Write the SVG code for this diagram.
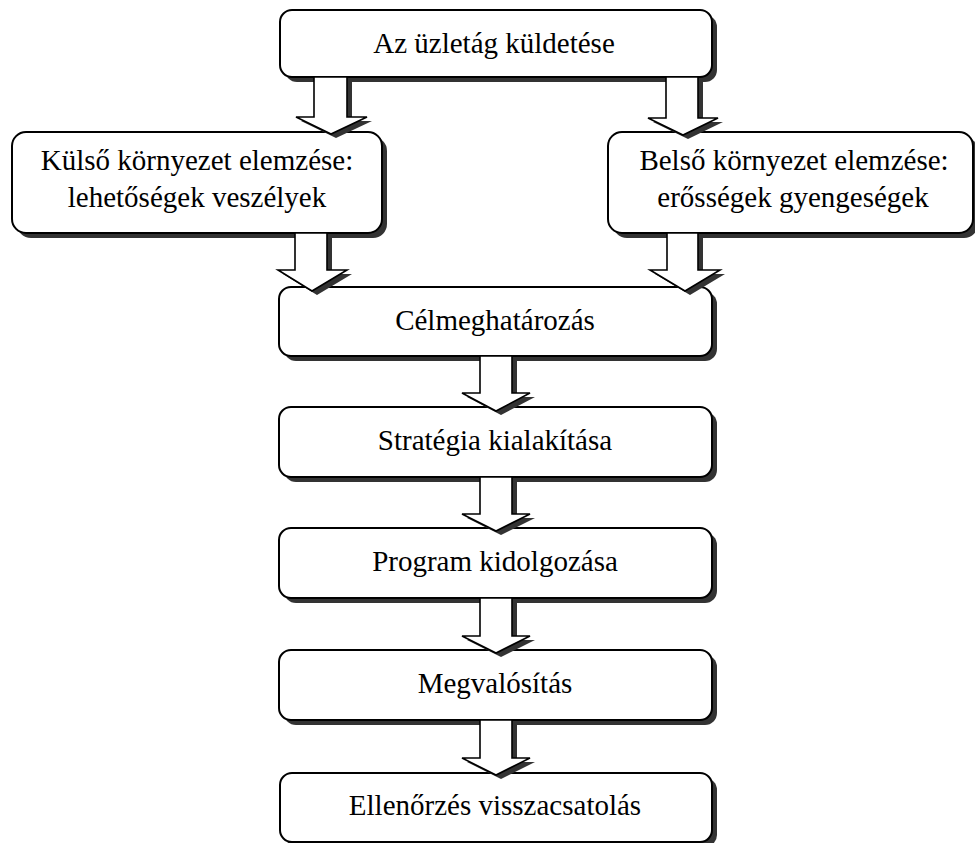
<svg xmlns="http://www.w3.org/2000/svg" xmlns:xlink="http://www.w3.org/1999/xlink" width="975" height="843" viewBox="0 0 975 843">
<style>
.box{fill:#fff;stroke:#000;stroke-width:2}
.shadow{fill:#333;stroke:none}
.arrow{fill:#fff;stroke:#000;stroke-width:1.6;stroke-linejoin:miter}
.ashadow{fill:#333;stroke:none}
text{font-family:"Liberation Serif","Times New Roman",serif;font-size:29px;fill:#000;text-anchor:middle}
</style>
<rect width="975" height="843" fill="#fff"/>
<g id="node-top">
<rect class="shadow" x="285" y="15" width="432" height="67" rx="12"/>
<rect class="box" x="280" y="10" width="432" height="67" rx="12"/>
<text x="494" y="53">Az üzletág küldetése</text>
</g>
<g id="node-kulso">
<rect class="shadow" x="17" y="137" width="370" height="101" rx="14"/>
<rect class="box" x="12" y="132" width="370" height="101" rx="14"/>
<text x="197" y="170">Külső környezet elemzése:</text>
<text x="197" y="207">lehetőségek veszélyek</text>
</g>
<g id="node-belso">
<rect class="shadow" x="613" y="137" width="365" height="101" rx="14"/>
<rect class="box" x="608" y="132" width="365" height="101" rx="14"/>
<text x="794" y="170">Belső környezet elemzése:</text>
<text x="793" y="207">erősségek gyengeségek</text>
</g>
<g id="node-cel">
<rect class="shadow" x="284" y="292" width="433" height="69" rx="12"/>
<rect class="box" x="279" y="287" width="433" height="69" rx="12"/>
<text x="495" y="330">Célmeghatározás</text>
</g>
<g id="node-strategia">
<rect class="shadow" x="284" y="412" width="433" height="70" rx="12"/>
<rect class="box" x="279" y="407" width="433" height="70" rx="12"/>
<text x="495" y="450">Stratégia kialakítása</text>
</g>
<g id="node-program">
<rect class="shadow" x="284" y="533" width="433" height="70" rx="12"/>
<rect class="box" x="279" y="528" width="433" height="70" rx="12"/>
<text x="495" y="571">Program kidolgozása</text>
</g>
<g id="node-megval">
<rect class="shadow" x="284" y="655" width="433" height="70" rx="12"/>
<rect class="box" x="279" y="650" width="433" height="70" rx="12"/>
<text x="495" y="693">Megvalósítás</text>
</g>
<g id="node-ellenorzes">
<rect class="shadow" x="285" y="778" width="432" height="69" rx="12"/>
<rect class="box" x="280" y="773" width="432" height="69" rx="12"/>
<text x="495" y="815">Ellenőrzés visszacsatolás</text>
</g>
<defs>
<path id="a1" d="M314,77 L347,77 L347,117 L367,117 L331,134 L296,117 L314,117 Z"/>
<path id="a2" d="M666,77 L698,77 L698,118 L718,118 L683,135 L648,118 L666,118 Z"/>
<path id="a3" d="M295,233 L327,233 L327,270 L347,270 L312,291 L278,270 L295,270 Z"/>
<path id="a4" d="M667,233 L698,233 L698,270 L720,270 L685,291 L650,270 L667,270 Z"/>
<path id="a5" d="M480,356 L512,356 L512,393 L530,393 L496,411 L462,393 L480,393 Z"/>
<path id="a6" d="M480,477 L512,477 L512,514 L530,514 L496,531 L462,514 L480,514 Z"/>
<path id="a7" d="M480,598 L512,598 L512,636 L530,636 L496,653 L462,636 L480,636 Z"/>
<path id="a8" d="M480,720 L512,720 L512,758 L530,758 L496,775 L462,758 L480,758 Z"/>
</defs>
<g id="connectors">
<use xlink:href="#a1" class="ashadow" transform="translate(5,4)"/>
<use xlink:href="#a1" class="arrow"/>
<use xlink:href="#a2" class="ashadow" transform="translate(5,4)"/>
<use xlink:href="#a2" class="arrow"/>
<use xlink:href="#a3" class="ashadow" transform="translate(5,4)"/>
<use xlink:href="#a3" class="arrow"/>
<use xlink:href="#a4" class="ashadow" transform="translate(5,4)"/>
<use xlink:href="#a4" class="arrow"/>
<use xlink:href="#a5" class="ashadow" transform="translate(5,4)"/>
<use xlink:href="#a5" class="arrow"/>
<use xlink:href="#a6" class="ashadow" transform="translate(5,4)"/>
<use xlink:href="#a6" class="arrow"/>
<use xlink:href="#a7" class="ashadow" transform="translate(5,4)"/>
<use xlink:href="#a7" class="arrow"/>
<use xlink:href="#a8" class="ashadow" transform="translate(5,4)"/>
<use xlink:href="#a8" class="arrow"/>
</g>
</svg>
